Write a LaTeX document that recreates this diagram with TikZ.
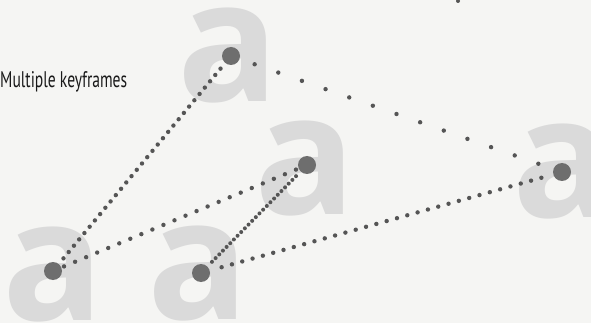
\documentclass[tikz,border=0pt]{standalone}
\usepackage{graphicx}
\usepackage{fontspec}
\setmainfont{PT Sans}
\newfontfamily\afont{Open Sans}
\usetikzlibrary{calc}
\definecolor{paper}{HTML}{F5F5F3}
\definecolor{letter}{HTML}{DADADA}
\definecolor{bigdot}{HTML}{6E6E6E}
\definecolor{smalldot}{HTML}{555555}
\begin{document}
\begin{tikzpicture}[x=1pt,y=-1pt,
  glyph/.style={anchor=base, inner sep=0pt, text=letter, font=\afont\bfseries\fontsize{168}{168}\selectfont},
  keydot/.style={circle, fill=bigdot, minimum size=18pt, inner sep=0pt},
  pip/.style={fill=smalldot},
  caption/.style={anchor=base west, inner sep=0pt, text=black!90}]
\fill[paper] (0,0) rectangle (591,323);
\useasboundingbox (0,0) rectangle (591,323);
% letters
\node[glyph] (aT) at (228,102) {a};
\node[glyph] (aM) at (305,214) {a};
\node[glyph] (aR) at (563,217) {a};
\node[glyph] (aL) at (53,320) {a};
\node[glyph] (aB) at (198,319) {a};
% key positions
\coordinate (pT) at (231,56);
\coordinate (pM) at (307,165);
\coordinate (pR) at (562,172);
\coordinate (pL) at (53,271);
\coordinate (pB) at (201,273);
\coordinate (stray) at (458,1);
% dotted paths
\foreach \i in {2,...,32} \fill[pip] ($(pT)!\i/34!(pL)$) circle (2.2pt);
\foreach \i in {1,...,13} \fill[pip] ($(pT)!\i/14!(pR)$) circle (2.2pt);
\foreach \i in {1,...,22} \fill[pip] ($(pL)!\i/23!(pM)$) circle (2.2pt);
\foreach \i in {3,...,26} \fill[pip] ($(pB)!\i/29!(pM)$) circle (2pt);
\foreach \i in {2,...,33} \fill[pip] ($(pB)!\i/35!(pR)$) circle (2.2pt);
\fill[pip] (stray) circle (2pt);
% key dots
\node[keydot] (kT) at (pT) {};
\node[keydot] (kM) at (pM) {};
\node[keydot] (kR) at (pR) {};
\node[keydot] (kL) at (pL) {};
\node[keydot] (kB) at (pB) {};
% caption
\node[caption] (title) at (0,88) {\resizebox{127pt}{16pt}{Multiple keyframes}};
\end{tikzpicture}
\end{document}
